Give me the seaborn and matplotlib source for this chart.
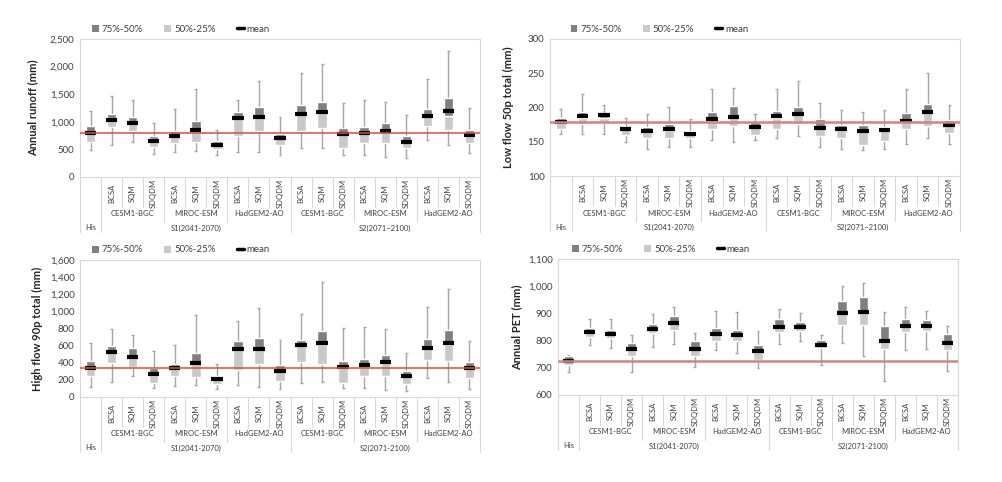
import numpy as np
import seaborn as sns
import matplotlib.pyplot as plt
from matplotlib.patches import Patch
from matplotlib.lines import Line2D

# categorias: His, S1 (3 GCM x 3 metodos), S2 (3 GCM x 3 metodos)
methods = ["BCSA", "SQM", "SDQDM"]
gcms = ["CESM1-BGC", "MIROC-ESM", "HadGEM2-AO"]
period_s1 = "S1(2041-2070)"

# Annual runoff (mm)
runoff_min = [490, 580, 630, 420, 450, 470, 400, 460, 450, 390, 520, 520, 400, 390, 360, 350, 670, 580, 430]
runoff_q25 = [630, 900, 830, 540, 620, 640, 500, 750, 840, 580, 840, 890, 520, 610, 620, 520, 920, 860, 620]
runoff_med = [810, 1060, 1000, 680, 770, 860, 600, 1070, 1090, 700, 1160, 1180, 790, 800, 850, 650, 1110, 1110, 780]
runoff_q75 = [920, 1150, 1080, 740, 840, 1020, 650, 1170, 1260, 780, 1300, 1360, 880, 910, 970, 740, 1230, 1430, 850]
runoff_max = [1190, 1460, 1390, 970, 1230, 1600, 860, 1400, 1740, 1080, 1880, 2040, 1340, 1400, 1360, 1120, 1780, 2280, 1250]
runoff_mean = [790, 1040, 980, 660, 750, 850, 580, 1060, 1080, 700, 1140, 1170, 770, 790, 830, 630, 1100, 1200, 760]

# Low flow 50p total (mm)
low_min = [162, 161, 162, 150, 139, 142, 142, 152, 149, 152, 156, 159, 142, 140, 138, 140, 147, 155, 147]
low_q25 = [168, 176, 177, 160, 156, 155, 155, 169, 173, 160, 169, 176, 158, 156, 145, 151, 168, 173, 163]
low_med = [178, 185, 185, 168, 166, 167, 161, 184, 187, 171, 185, 191, 172, 167, 167, 167, 182, 193, 175]
low_q75 = [184, 194, 190, 172, 171, 176, 166, 194, 202, 179, 195, 201, 183, 175, 174, 172, 192, 205, 182]
low_max = [198, 220, 203, 185, 191, 201, 183, 227, 229, 191, 227, 239, 207, 197, 194, 197, 227, 251, 204]
low_mean = [179, 188, 189, 168, 166, 168, 162, 183, 186, 171, 187, 190, 170, 168, 166, 167, 181, 193, 175]

# High flow 90p total (mm)
high_min = [120, 170, 250, 110, 130, 140, 95, 140, 120, 95, 160, 170, 105, 100, 85, 75, 225, 180, 90]
high_q25 = [250, 400, 350, 160, 250, 230, 150, 320, 390, 185, 410, 385, 165, 245, 240, 155, 430, 420, 225]
high_med = [340, 520, 470, 260, 335, 400, 210, 560, 560, 300, 610, 620, 340, 370, 410, 250, 575, 620, 340]
high_q75 = [415, 590, 570, 340, 380, 510, 240, 650, 690, 375, 665, 775, 425, 440, 485, 300, 680, 780, 405]
high_max = [625, 800, 720, 540, 610, 960, 390, 890, 1045, 660, 975, 1345, 810, 815, 800, 510, 1055, 1260, 655]
high_mean = [340, 520, 470, 265, 335, 400, 210, 560, 560, 300, 610, 625, 345, 370, 405, 250, 575, 625, 340]

# Annual PET (mm)
pet_min = [685, 785, 772, 685, 775, 787, 703, 765, 755, 698, 787, 800, 712, 790, 742, 653, 765, 770, 688]
pet_q25 = [712, 815, 810, 745, 828, 838, 745, 800, 800, 730, 832, 835, 772, 858, 858, 768, 830, 835, 765]
pet_med = [730, 830, 825, 770, 845, 865, 770, 825, 822, 760, 850, 850, 785, 900, 905, 800, 855, 855, 790]
pet_q75 = [745, 845, 840, 790, 862, 890, 797, 845, 840, 785, 878, 867, 802, 945, 960, 855, 878, 875, 825]
pet_max = [748, 880, 880, 822, 897, 922, 827, 910, 905, 835, 915, 903, 822, 1002, 1013, 905, 922, 910, 855]
pet_mean = [726, 830, 823, 770, 843, 866, 770, 825, 822, 763, 850, 850, 785, 902, 905, 797, 855, 855, 792]

DARK = "#808080"
LIGHT = "#c9c9c9"
WHISK = "#a6a6a6"
EDGE = "#d9d9d9"
TXT = "#404040"
W, H = 1003, 482

sns.set_theme(style="white")
plt.rcParams["font.family"] = ["Lato", "DejaVu Sans"]

fig = plt.figure(figsize=(W / 100, H / 100), dpi=100)


def cat_axis(ax, s2_label):
    n = 19
    h_px = ax.get_position().height * H
    trans = ax.get_xaxis_transform()
    for i in range(n + 1):
        if i in (0, 1, 10, n):
            depth = 55
        elif (i - 1) % 3 == 0:
            depth = 45
        else:
            depth = 30
        ax.plot([i - 0.5, i - 0.5], [0, -depth / h_px], transform=trans,
                color=EDGE, lw=0.8, clip_on=False)
    for i in range(1, n):
        ax.text(i, -16 / h_px, methods[(i - 1) % 3], rotation=90, transform=trans,
                ha="center", va="center", fontsize=5.5, color=TXT)
    for g in range(6):
        ax.text(2 + 3 * g, -37 / h_px, gcms[g % 3], transform=trans,
                ha="center", va="center", fontsize=5.5, color=TXT)
    ax.text(0, -51 / h_px, "His", transform=trans, ha="center", va="center", fontsize=5.5, color=TXT)
    ax.text(5, -51 / h_px, period_s1, transform=trans, ha="center", va="center", fontsize=5.5, color=TXT)
    ax.text(14, -51 / h_px, s2_label, transform=trans, ha="center", va="center", fontsize=5.5, color=TXT)


def draw_panel(rect, vmin, q25, med, q75, vmax, mean, yticks, ylabel, s2_label,
               leg_x, line_kw, labelpad):
    ax = fig.add_axes(rect)
    keys = [f"c{i}" for i in range(len(med))]
    q25, med, q75 = np.array(q25), np.array(med), np.array(q75)
    pos = np.arange(len(keys))

    # bigodes (min-max)
    ax.vlines(pos, vmin, vmax, color=WHISK, lw=1, zorder=1)
    ax.hlines(vmin, pos - 0.07, pos + 0.07, color=WHISK, lw=1, zorder=1)
    ax.hlines(vmax, pos - 0.07, pos + 0.07, color=WHISK, lw=1, zorder=1)

    # caixas empilhadas
    sns.barplot(x=keys, y=med - q25, bottom=q25, order=keys, color=LIGHT,
                saturation=1, width=0.45, errorbar=None, ax=ax, zorder=2)
    sns.barplot(x=keys, y=q75 - med, bottom=med, order=keys, color=DARK,
                saturation=1, width=0.45, errorbar=None, ax=ax, zorder=2)

    # media
    ax.hlines(mean, pos - 0.27, pos + 0.27, color="black", lw=3, zorder=3)
    ax.axhline(mean[0], color=line_kw[0], lw=line_kw[1], zorder=4)

    ax.set_xlim(-0.5, len(keys) - 0.5)
    ax.set_ylim(yticks[0], yticks[-1])
    ax.set_yticks(yticks)
    ax.set_yticklabels([f"{t:,}" for t in yticks], fontsize=7, color=TXT)
    ax.set_xticks([])
    ax.set_xlabel("")
    ax.tick_params(axis="y", length=0, pad=4)
    ax.set_ylabel(ylabel, fontsize=8, fontweight="bold", color="#262626", labelpad=labelpad)
    for sp in ax.spines.values():
        sp.set_color(EDGE)
        sp.set_linewidth(0.8)

    cat_axis(ax, s2_label)

    h_px = ax.get_position().height * H
    handles = [Patch(facecolor=DARK, edgecolor="none"),
               Patch(facecolor=LIGHT, edgecolor="none"),
               Line2D([0], [0], color="black", lw=2.5)]
    ax.legend(handles, ["75%-50%", "50%-25%", "mean"], ncol=3, frameon=False,
              loc="center left", bbox_to_anchor=(leg_x, 1 + 10 / h_px),
              borderaxespad=0, borderpad=0, fontsize=7, handlelength=0.7,
              handleheight=0.7, handletextpad=0.3, columnspacing=2.2,
              labelcolor=TXT)
    return ax


red_a = ("#e04848", 1.1)
red_b = ("#d98080", 1.8)

draw_panel([80 / W, 1 - 177 / H, 400 / W, 138 / H],
           runoff_min, runoff_q25, runoff_med, runoff_q75, runoff_max, runoff_mean,
           list(range(0, 2501, 500)), "Annual runoff (mm)", "S2(2071~2100)", 0.03, red_a, 8)
draw_panel([550 / W, 1 - 176 / H, 410 / W, 137 / H],
           low_min, low_q25, low_med, low_q75, low_max, low_mean,
           list(range(100, 301, 50)), "Low flow 50p total (mm)", "S2(2071~2100)", 0.05, red_b, 10)
draw_panel([80 / W, 1 - 397 / H, 400 / W, 137 / H],
           high_min, high_q25, high_med, high_q75, high_max, high_mean,
           list(range(0, 1601, 200)), "High flow 90p total (mm)", "S2(2071-2100)", 0.03, red_a, 5)
draw_panel([558 / W, 1 - 395 / H, 400 / W, 136 / H],
           pet_min, pet_q25, pet_med, pet_q75, pet_max, pet_mean,
           list(range(600, 1101, 100)), "Annual PET (mm)", "S2(2071-2100)", 0.035, red_b, 4)

fig.savefig("out.png", dpi=100, facecolor="white")
